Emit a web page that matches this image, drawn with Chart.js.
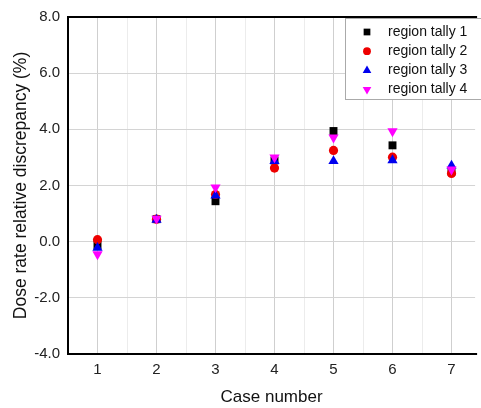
<!DOCTYPE html>
<html><head><meta charset="utf-8">
<script src="https://cdn.jsdelivr.net/npm/chart.js@4/dist/chart.umd.min.js"></script>
<style>html,body{margin:0;padding:0;background:#fff}#wrap{width:481px;height:408px}</style>
</head><body><div id="wrap"><canvas id="c" width="481" height="408"></canvas></div>
<script>
const cases = [1, 2, 3, 4, 5, 6, 7];
const tally1 = [-0.12, 0.80, 1.44, 2.89, 3.94, 3.43, 2.50];
const tally2 = [0.07, 0.80, 1.68, 2.62, 3.25, 3.01, 2.43];
const tally3 = [-0.22, 0.78, 1.64, 2.87, 2.87, 2.90, 2.71];
const tally4 = [-0.45, 0.82, 1.93, 3.00, 3.71, 3.93, 2.57];
const seriesNames = ['region tally 1', 'region tally 2', 'region tally 3', 'region tally 4'];
const yTicks = [-4, -2, 0, 2, 4, 6, 8];

const FONT = '"Liberation Sans", Arial, sans-serif';
const pts = a => a.map((v, i) => ({x: cases[i], y: v}));
const styles = [
  {color: '#000000', pointStyle: 'rect', r: 5.6, rot: 0},
  {color: '#ee0000', pointStyle: 'circle', r: 4.6, rot: 0},
  {color: '#0000ee', pointStyle: 'triangle', r: 5.9, rot: 0},
  {color: '#ff00ff', pointStyle: 'triangle', r: 5.9, rot: 180}
];
const data = [tally1, tally2, tally3, tally4];
const datasets = data.map((d, i) => ({
  label: seriesNames[i], data: pts(d), showLine: false, order: 3 - i,
  pointStyle: styles[i].pointStyle, pointRadius: styles[i].r, pointRotation: styles[i].rot,
  backgroundColor: styles[i].color, borderColor: styles[i].color, borderWidth: 0
}));
const frame = {
  id: 'frame',
  afterDraw(chart) {
    const {ctx, chartArea: a} = chart;
    ctx.save();
    ctx.strokeStyle = '#000'; ctx.lineWidth = 2;
    ctx.beginPath();
    ctx.moveTo(a.right + 2, a.top); ctx.lineTo(a.left, a.top); ctx.lineTo(a.left, a.bottom); ctx.lineTo(a.right + 2, a.bottom);
    ctx.stroke();
    // legend
    const lx = 345, ly = 18, lw = 140, lh = 81;
    ctx.fillStyle = '#fff'; ctx.fillRect(lx, ly, lw, lh);
    ctx.strokeStyle = '#aaa'; ctx.lineWidth = 1; ctx.strokeRect(lx + 0.5, ly + 0.5, lw, lh);
    ctx.font = '14px ' + FONT; ctx.textBaseline = 'middle'; ctx.textAlign = 'left';
    chart.data.datasets.forEach((ds, i) => {
      const y = 32 + i * 19.2;
      ctx.fillStyle = ds.backgroundColor;
      ctx.strokeStyle = ds.backgroundColor;
      Chart.helpers.drawPoint(ctx, {pointStyle: ds.pointStyle, radius: ds.pointRadius * 0.85, rotation: ds.pointRotation, borderWidth: 0}, 367, y);
      ctx.fillStyle = '#111';
      ctx.fillText(ds.label, 388, y);
    });
    ctx.restore();
  }
};
new Chart(document.getElementById('c'), {
  type: 'scatter',
  data: {datasets},
  options: {
    responsive: false, animation: false,
    layout: {padding: {top: 17, right: 0, left: 0, bottom: 0}},
    plugins: {legend: {display: false}, tooltip: {enabled: false}},
    scales: {
      x: {
        type: 'linear', min: 0.5, max: 7.4,
        afterBuildTicks(s) { const t = []; for (let v = 0.5; v <= 7.01; v += 0.5) t.push({value: v}); s.ticks = t; },
        afterFit(s) { s.height = 54; },
        ticks: {font: {family: FONT, size: 15}, color: '#222', padding: 7, maxRotation: 0, autoSkip: false,
          callback: v => Number.isInteger(v) ? String(v) : ''},
        grid: {drawTicks: false, color: c => (c.tick && Number.isInteger(c.tick.value)) ? '#cfcfcf' : '#ececec'},
        border: {display: false},
        title: {display: true, text: 'Case number', font: {family: FONT, size: 17}, color: '#111', padding: {top: 4, bottom: 0}}
      },
      y: {
        min: -4, max: 8,
        afterBuildTicks(s) { s.ticks = yTicks.map(v => ({value: v})); },
        afterFit(s) { s.width = 68; },
        ticks: {font: {family: FONT, size: 15}, color: '#222', padding: 8, callback: v => v.toFixed(1)},
        grid: {drawTicks: false, color: '#d4d4d4'},
        border: {display: false},
        title: {display: true, text: 'Dose rate relative discrepancy (%)', font: {family: FONT, size: 17.5}, color: '#111', padding: {top: 11, bottom: 2}}
      }
    }
  },
  plugins: [frame]
});
</script></body></html>
